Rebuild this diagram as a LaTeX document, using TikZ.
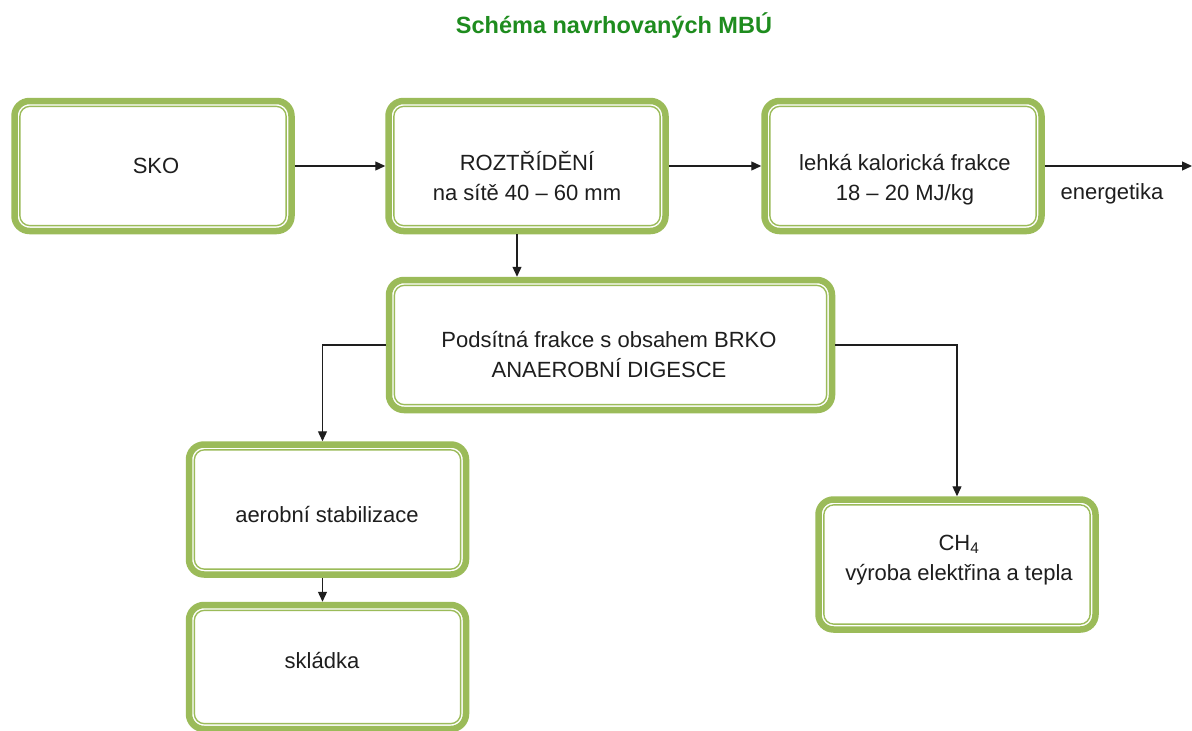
\documentclass[tikz,border=0pt]{standalone}
\usepackage{fontspec}
\setmainfont{Liberation Sans}
\usetikzlibrary{arrows.meta}
\definecolor{mbugreen}{RGB}{155,187,89}
\definecolor{titlegreen}{RGB}{30,140,30}
\definecolor{ink}{RGB}{30,30,30}

\begin{document}
\begin{tikzpicture}[x=1pt, y=-1pt,
  box/.style={draw=mbugreen, line width=6.5pt, rounded corners=15pt,
    minimum width=277pt, minimum height=130pt, inner sep=0pt, outer sep=3.25pt},
  rim/.style={draw=mbugreen, line width=1.4pt, rounded corners=10pt},
  txt/.style={font=\fontsize{22}{30}\selectfont, text=ink, align=center,
    inner sep=0pt, anchor=base},
  arr/.style={draw=ink, line width=1.3pt, -{Triangle[length=10pt,width=9pt]}}]

  \useasboundingbox[fill=white] (0,0) rectangle (1192,731);

  % title
  \node[font=\fontsize{23.5}{28}\selectfont\bfseries, text=titlegreen, anchor=base]
    (title) at (614,33) {Schéma navrhovaných MBÚ};

  % boxes
  \node[box] (sko)   at (153,166) {};
  \node[box] (sort)  at (527,166) {};
  \node[box] (light) at (903,166) {};
  \node[box, minimum width=443pt]  (brko)  at (610.5,345) {};
  \node[box] (aerob) at (327.5,509.5) {};
  \node[box, minimum height=124pt] (sklad) at (327.5,667) {};
  \node[box] (ch4)   at (957,564.5) {};

  % thin inner line of the double frame
  \foreach \n in {sko,sort,light,brko,aerob,sklad,ch4}
    \draw[rim] ([shift={(8.6pt,-8.6pt)}]\n.north west)
      rectangle ([shift={(-8.6pt,8.6pt)}]\n.south east);

  % texts (base = last line)
  \node[txt] (skoT)   at (156,173)   {SKO};
  \node[txt] (sortT)  at (527,200)   {ROZTŘÍDĚNÍ\\na sítě 40 – 60 mm};
  \node[txt] (lightT) at (905,200)   {lehká kalorická frakce\\18 – 20 MJ/kg};
  \node[txt] (brkoT)  at (609,377)   {Podsítná frakce s obsahem BRKO\\ANAEROBNÍ DIGESCE};
  \node[txt] (aerobT) at (327,522)   {aerobní stabilizace};
  \node[txt] (skladT) at (322,668)   {skládka};
  \node[txt] (ch4T)   at (959,580)   {CH\textsubscript{4}\\výroba elektřina a tepla};
  \node[txt] (energT) at (1112,199)  {energetika};

  % connectors
  \coordinate (out) at (1192,166);
  \draw[arr] (sko.east) -- (sort.west);
  \draw[arr] (sort.east) -- (light.west);
  \draw[arr] (light.east) -- (out);
  \draw[arr] ([xshift=-10pt]sort.south) -- ([xshift=-10pt]sort.south |- brko.north);
  \draw[arr] (brko.west) -| ([xshift=-5pt]aerob.north);
  \draw[arr] (brko.east) -| (ch4.north);
  \draw[arr] ([xshift=-5pt]aerob.south) -- ([xshift=-5pt]aerob.south |- sklad.north);

\end{tikzpicture}
\end{document}
